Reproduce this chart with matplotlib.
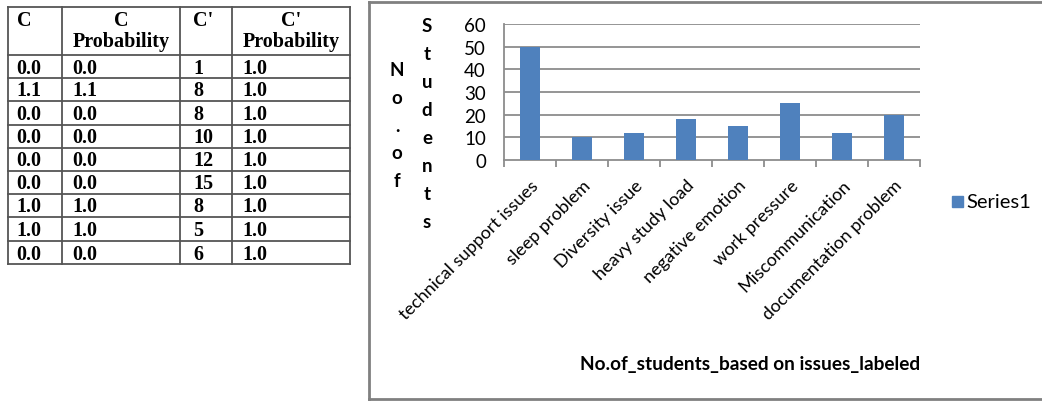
import matplotlib
matplotlib.use("Agg")
import matplotlib.pyplot as plt
from matplotlib.patches import Rectangle

# ---------------- data ----------------
categories = ["technical support issues", "sleep problem", "Diversity issue",
              "heavy study load", "negative emotion", "work pressure",
              "Miscommunication", "documentation problem"]
counts = [50, 10, 12, 18, 15, 25, 12, 20]
y_ticks = [0, 10, 20, 30, 40, 50, 60]
series_name = "Series1"
x_title = "No.of_students_based on issues_labeled"
y_title_col1 = "No.of"
y_title_col2 = "Students"

table_headers = ["C", "C\nProbability", "C'", "C'\nProbability"]
c_vals = ["0.0", "1.1", "0.0", "0.0", "0.0", "0.0", "1.0", "1.0", "0.0"]
c_prob = ["0.0", "1.1", "0.0", "0.0", "0.0", "0.0", "1.0", "1.0", "0.0"]
c_prime = ["1", "8", "8", "10", "12", "15", "8", "5", "6"]
c_prime_prob = ["1.0"] * 9

W, H = 1042, 402
BAR = "#4f81bd"
GRID = "#8c8c8c"
FONT = "Lato"

fig = plt.figure(figsize=(W / 100, H / 100), dpi=100)

# overlay axes in pixel coords for table + frame
ov = fig.add_axes([0, 0, 1, 1])
ov.set_xlim(0, W)
ov.set_ylim(H, 0)
ov.axis("off")

# ---- table ----
col_x = [8, 62, 180, 232, 350]
row_y = [8, 56, 79, 102, 126, 149, 172, 195, 218, 242, 265]
lc = "#555555"
for x in col_x:
    ov.plot([x, x], [row_y[0], row_y[-1]], color=lc, lw=1.3)
for y in row_y:
    ov.plot([col_x[0], col_x[-1]], [y, y], color=lc, lw=1.3)

serif = dict(family="Liberation Serif", weight="bold", fontsize=14.5, color="black")
for i, h in enumerate(table_headers):
    cx = (col_x[i] + col_x[i + 1]) / 2
    if i == 0:
        ov.text(17, 11, h, ha="left", va="top", **serif)
    elif i == 2:
        ov.text(193, 11, h, ha="left", va="top", **serif)
    else:
        ov.text(cx, 11, h, ha="center", va="top", linespacing=1.05, **serif)

cols = [c_vals, c_prob, c_prime, c_prime_prob]
left_x = [16, 72, 193, 242]
for j, col in enumerate(cols):
    for r, v in enumerate(col):
        yc = (row_y[r + 1] + row_y[r + 2]) / 2
        ov.text(left_x[j], yc + 1, v, ha="left", va="center", **serif)

# ---- chart frame ----
ov.plot([369, 369], [3, 400], color="#808080", lw=2)
ov.plot([369, W + 5], [3, 3], color="#808080", lw=2)
ov.plot([369, W + 5], [400, 400], color="#808080", lw=2)

# y-axis title: two stacked vertical columns
bold = dict(family=FONT, weight="bold", fontsize=13.5, color="black")
for k, ch in enumerate(y_title_col1):
    ov.text(397, 70 + k * 28, ch, ha="center", va="center", **bold)
for k, ch in enumerate(y_title_col2):
    ov.text(427, 27 + k * 28, ch, ha="center", va="center", **bold)

ov.text(750, 365, x_title, ha="center", va="center",
        family=FONT, weight="bold", fontsize=13.7, color="black")

# legend
ov.add_patch(Rectangle((952, 197), 11, 11, color=BAR))
ov.text(966, 203, series_name, ha="left", va="center", family=FONT, fontsize=14.5)

# ---- bar chart ----
x0, x1, y0, y1 = 504, 920, 25, 161
ax = fig.add_axes([x0 / W, 1 - y1 / H, (x1 - x0) / W, (y1 - y0) / H])
xs = list(range(len(categories)))
ax.bar(xs, counts, width=0.39, color=BAR, zorder=3)
ax.set_xlim(-0.5, len(categories) - 0.5)
ax.set_ylim(0, 60)
ax.set_yticks(y_ticks)
ax.set_yticklabels([str(t) for t in y_ticks], family=FONT, fontsize=13.5)
for t in y_ticks[1:]:
    ax.axhline(t, color=GRID, lw=1.3, zorder=1)
for s in ["top", "right"]:
    ax.spines[s].set_visible(False)
ax.spines["left"].set_color(GRID)
ax.spines["bottom"].set_color(GRID)
ax.spines["left"].set_linewidth(1.3)
ax.spines["bottom"].set_linewidth(1.3)
ax.tick_params(axis="y", length=0, pad=13)
ax.set_xticks([i - 0.5 for i in range(len(categories) + 1)], minor=False)
ax.set_xticklabels([""] * (len(categories) + 1))
ax.tick_params(axis="x", length=5, color=GRID, width=1.3)
ax.set_xticks(xs, minor=True)
ax.set_xticklabels(categories, minor=True, rotation=45, ha="right",
                   rotation_mode="anchor", family=FONT, fontsize=13)
ax.tick_params(axis="x", which="minor", length=0, pad=12)

fig.savefig("out.png", dpi=100)
